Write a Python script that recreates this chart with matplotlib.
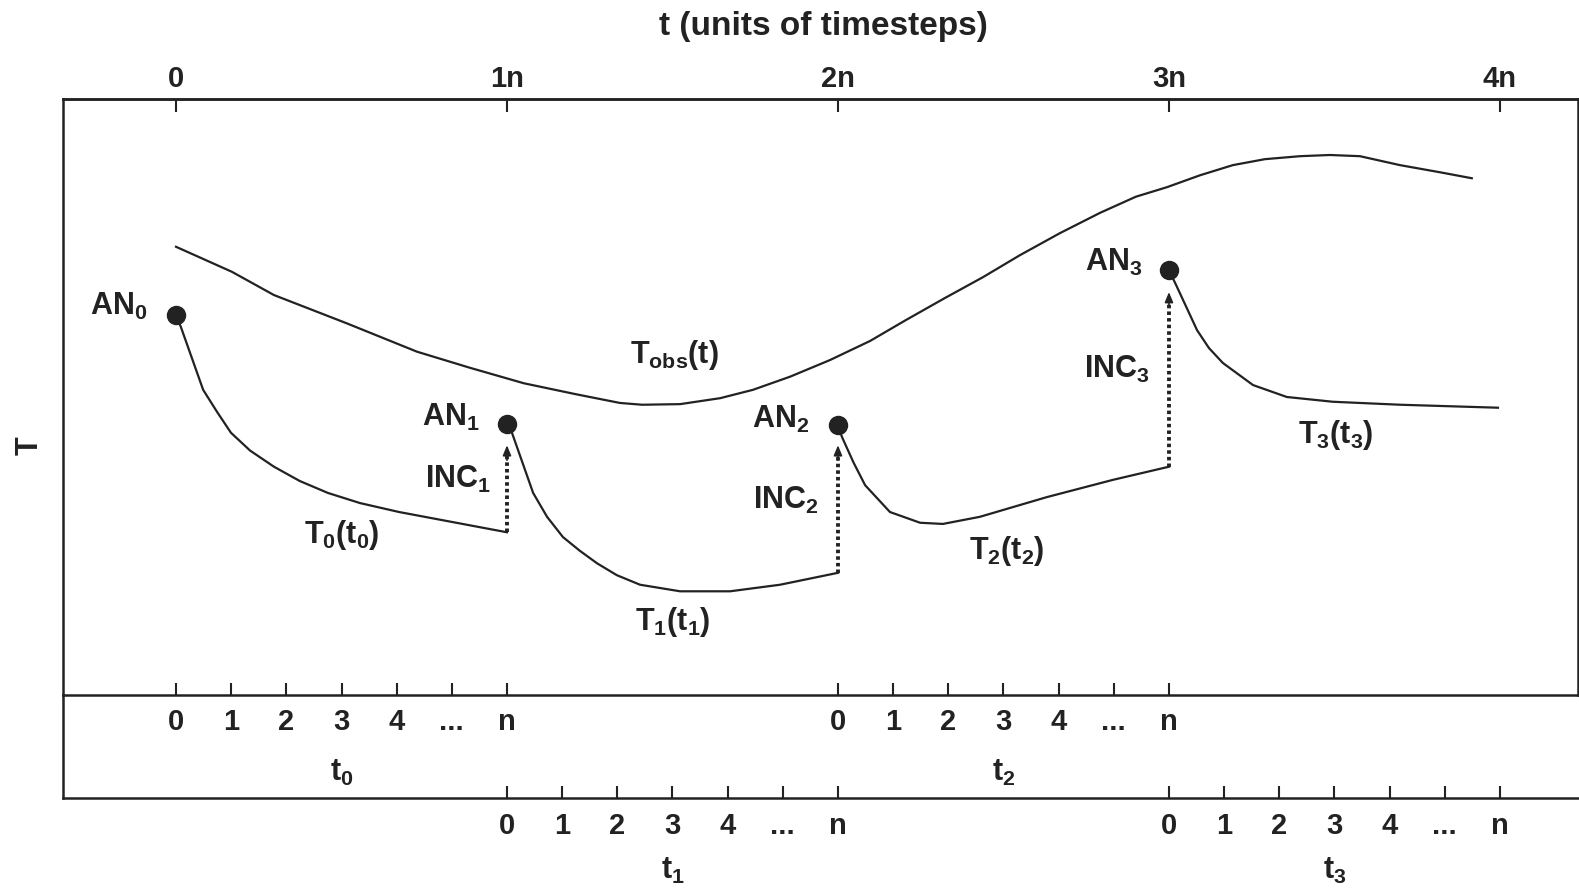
import matplotlib
matplotlib.use("Agg")
from matplotlib import pyplot as plt
from matplotlib import transforms

# observed temperature T_obs(t), x in units of n timesteps
tobs_x = [0.0, 0.169, 0.296, 0.514, 0.728, 0.888, 1.051, 1.205, 1.341, 1.408, 1.523, 1.644,
          1.743, 1.855, 1.976, 2.097, 2.205, 2.323, 2.438, 2.550, 2.671, 2.792, 2.900, 2.994,
          3.094, 3.193, 3.290, 3.396, 3.486, 3.577, 3.698, 3.819, 3.915]
tobs_T = [75.2, 71.0, 67.1, 62.4, 57.6, 54.9, 52.3, 50.5, 49.0, 48.7, 48.8, 49.8,
          51.2, 53.4, 56.2, 59.4, 62.9, 66.6, 70.1, 73.8, 77.5, 80.9, 83.6, 85.2,
          87.2, 88.9, 89.9, 90.4, 90.6, 90.4, 88.9, 87.7, 86.7]

# model forecasts started from each analysis
t0_x = [0.0, 0.015, 0.082, 0.124, 0.166, 0.224, 0.296, 0.374, 0.459, 0.556, 0.674, 0.837, 1.0]
t0_T = [63.8, 61.7, 51.2, 47.5, 44.0, 41.0, 38.3, 35.9, 33.9, 32.2, 30.7, 29.0, 27.3]
t1_x = [1.0, 1.015, 1.079, 1.121, 1.169, 1.220, 1.272, 1.332, 1.402, 1.523, 1.674, 1.825, 2.0]
t1_T = [45.5, 44.0, 33.9, 29.9, 26.5, 24.2, 22.1, 20.1, 18.5, 17.4, 17.4, 18.5, 20.5]
t2_x = [2.0, 2.012, 2.047, 2.082, 2.157, 2.248, 2.317, 2.429, 2.631, 2.831, 3.0]
t2_T = [45.3, 43.3, 39.0, 35.2, 30.7, 28.9, 28.7, 29.9, 33.2, 36.1, 38.3]
t3_x = [3.0, 3.024, 3.085, 3.121, 3.163, 3.254, 3.356, 3.495, 3.698, 3.994]
t3_T = [71.3, 68.5, 61.2, 58.2, 55.7, 52.0, 50.0, 49.2, 48.7, 48.2]

# analyses AN_k and increments INC_k
an_x = [0, 1, 2, 3]
an_T = [63.8, 45.5, 45.3, 71.3]
inc_x = [1, 2, 3]
inc_from = [27.3, 20.5, 38.3]
inc_to = [41.9, 41.9, 67.6]

top_ticks = [0, 1, 2, 3, 4]
top_labels = ["0", "1n", "2n", "3n", "4n"]
sub_labels = ["0", "1", "2", "3", "4", "...", "n"]

# label text and centre positions
labels = [r"AN$_0$", r"AN$_1$", r"AN$_2$", r"AN$_3$",
          r"INC$_1$", r"INC$_2$", r"INC$_3$",
          r"T$_0$(t$_0$)", r"T$_1$(t$_1$)", r"T$_2$(t$_2$)", r"T$_3$(t$_3$)",
          r"T$_{obs}$(t)"]
label_x = [-0.174, 0.829, 1.828, 2.832, 0.853, 1.843, 2.844, 0.502, 1.502, 2.509, 3.505, 1.505]
label_T = [65.2, 46.5, 46.3, 72.6, 36.1, 32.7, 54.7, 26.9, 12.2, 24.2, 43.7, 57.1]

plt.rcParams['font.family'] = ['Liberation Sans', 'DejaVu Sans']
plt.rcParams['font.weight'] = 'bold'
plt.rcParams['mathtext.fontset'] = 'custom'
plt.rcParams['mathtext.rm'] = 'Liberation Sans:bold'
plt.rcParams['mathtext.it'] = 'Liberation Sans:bold'
plt.rcParams['mathtext.bf'] = 'Liberation Sans:bold'

ink = '#222222'
fig = plt.figure(figsize=(15.79, 8.90), dpi=100)
ax = fig.add_axes([0.0402, 0.2191, 0.9592, 0.6697])
ax2 = fig.add_axes([0.0402, 0.1034, 0.9592, 0.1157])
ax2.patch.set_visible(False)

xmin, xmax = -0.340, 4.236
ax.set_xlim(xmin, xmax)
ax2.set_xlim(xmin, xmax)
ax.set_ylim(0, 100)
ax2.set_ylim(0, 1)

ax.plot(tobs_x, tobs_T, color=ink, lw=1.6)
for xs, ys in [(t0_x, t0_T), (t1_x, t1_T), (t2_x, t2_T), (t3_x, t3_T)]:
    ax.plot(xs, ys, color=ink, lw=1.6)
ax.plot(an_x, an_T, 'o', color=ink, ms=13, zorder=5)

for x, a, b in zip(inc_x, inc_from, inc_to):
    ax.plot([x, x], [a, b - 1.5], color=ink, lw=2.8, linestyle=(0, (0.9, 0.8)))
    ax.annotate('', xy=(x, b), xytext=(x, b - 2.5),
                arrowprops=dict(arrowstyle='-|>,head_length=0.6,head_width=0.25',
                                color=ink, lw=1.2, shrinkA=0, shrinkB=0))

for s, x, y in zip(labels, label_x, label_T):
    ax.text(x, y, s, fontsize=22, ha='center', va='center', color=ink)

for sp in list(ax.spines.values()) + list(ax2.spines.values()):
    sp.set_linewidth(1.8)
    sp.set_color(ink)
ax2.spines['top'].set_visible(False)
ax2.spines['right'].set_visible(False)

# top axis: whole timesteps
top = ax.secondary_xaxis('top')
top.set_xticks(top_ticks, labels=top_labels)
top.tick_params(direction='in', length=9, width=1.5, pad=4, labelsize=21, colors=ink)
top.spines['top'].set_linewidth(1.8)
top.spines['top'].set_color(ink)

# first row of sub-steps: windows t0 and t2
row1 = [k + j / 6 for k in (0, 2) for j in range(7)]
ax.set_xticks(row1, labels=sub_labels * 2)
ax.tick_params(axis='x', direction='in', length=9, width=1.5, pad=9.5, labelsize=21, colors=ink)
ax.set_yticks([])

# second row of sub-steps: windows t1 and t3
row2 = [k + j / 6 for k in (1, 3) for j in range(7)]
ax2.set_xticks(row2, labels=sub_labels * 2)
ax2.tick_params(axis='x', direction='in', length=9, width=1.5, pad=10, labelsize=21, colors=ink)
ax2.set_yticks([])

trans = transforms.blended_transform_factory(ax2.transData, ax2.transAxes)
for k in range(4):
    yy = 0.243 if k % 2 == 0 else -0.709
    ax2.text(k + 0.5, yy, 't$_%d$' % k, transform=trans, fontsize=22,
             ha='center', va='center', color=ink, clip_on=False)

fig.text(823 / 1579, 1 - 27 / 890, 't (units of timesteps)', fontsize=24,
         ha='center', va='center', color=ink)
fig.text(30 / 1579, 1 - 446 / 890, 'T', fontsize=22, rotation=90,
         ha='center', va='center', color=ink)

plt.savefig("out.png", dpi=100)
